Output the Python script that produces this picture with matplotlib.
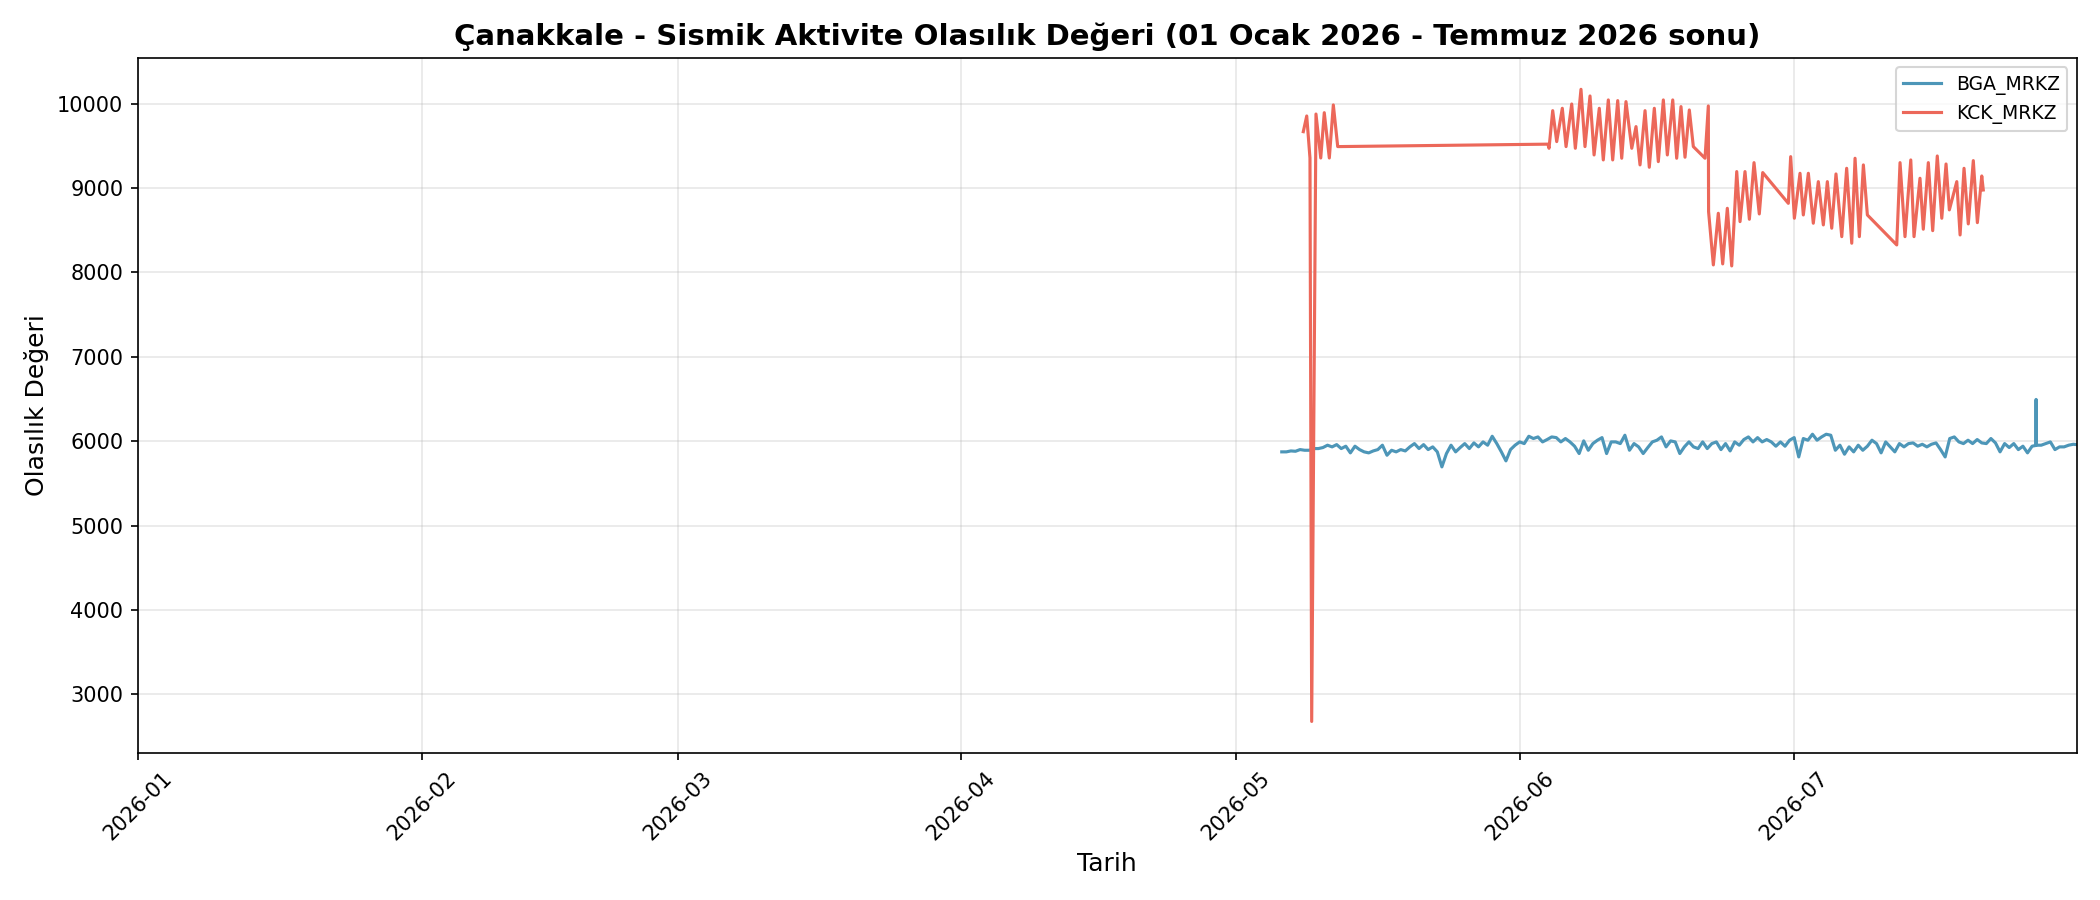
import matplotlib
matplotlib.use("Agg")
import matplotlib.pyplot as plt
import matplotlib.dates as mdates
import pandas as pd

# ---------------- data ----------------
# BGA_MRKZ: 12-hourly readings starting 2026-05-06 00:00
bga_start = "2026-05-06 00:00"
bga_values = [
    5874, 5874, 5885, 5881, 5901, 5893, 5893, 5913, 5913, 5925,
    5953, 5933, 5960, 5913, 5941, 5862, 5941, 5901, 5874, 5862,
    5885, 5901, 5953, 5834, 5893, 5874, 5901, 5885, 5933, 5972,
    5913, 5960, 5901, 5933, 5874, 5696, 5854, 5953, 5874, 5925,
    5972, 5913, 5980, 5933, 5992, 5953, 6059, 5972, 5874, 5767,
    5901, 5953, 5992, 5972, 6059, 6032, 6051, 5992, 6020, 6051,
    6043, 5992, 6032, 5992, 5941, 5854, 6004, 5893, 5972, 6012,
    6043, 5854, 5992, 5992, 5972, 6071, 5893, 5972, 5933, 5854,
    5925, 5992, 6012, 6051, 5933, 6004, 5992, 5854, 5933, 5992,
    5933, 5913, 5992, 5913, 5972, 5992, 5901, 5972, 5885, 5992,
    5953, 6020, 6051, 5992, 6043, 5992, 6020, 5992, 5941, 5992,
    5941, 6012, 6043, 5814, 6032, 6012, 6083, 6012, 6051, 6083,
    6071, 5893, 5953, 5846, 5933, 5874, 5953, 5893, 5941, 6012,
    5972, 5862, 5992, 5933, 5874, 5972, 5933, 5972, 5980, 5941,
    5964, 5933, 5964, 5980, 5901, 5814, 6032, 6051, 5992, 5972,
    6012, 5972, 6020, 5980, 5972, 6032, 5980, 5874, 5972, 5925,
    5972, 5901, 5941, 5862, 5941, 5953, 5953, 5972, 5992, 5901,
    5933, 5933, 5953, 5964,
]
bga_extra_times = ["2026-07-27 10:00", "2026-07-27 10:30", "2026-07-27 11:00",
                   "2026-07-31 21:00"]
bga_extra_values = [5950, 6495, 5955, 5960]

# KCK_MRKZ: readings (time, value)
kck_times = [
    "2026-05-08 08:30", "2026-05-08 17:30", "2026-05-09 02:00", "2026-05-09 06:30",
    "2026-05-09 17:45", "2026-05-10 06:15", "2026-05-10 15:30", "2026-05-11 04:45",
    "2026-05-11 15:15", "2026-05-12 02:45",
    "2026-06-04 02:00", "2026-06-04 05:00",
    "2026-06-04 14:40", "2026-06-05 01:10", "2026-06-05 15:50", "2026-06-06 01:40",
    "2026-06-06 16:30", "2026-06-07 02:00", "2026-06-07 16:50", "2026-06-08 03:20",
    "2026-06-08 16:30", "2026-06-09 03:10", "2026-06-09 16:50", "2026-06-10 03:20",
    "2026-06-10 16:30", "2026-06-11 04:00", "2026-06-11 17:10", "2026-06-12 03:40",
    "2026-06-12 14:50", "2026-06-13 06:00", "2026-06-13 17:10", "2026-06-14 03:40",
    "2026-06-14 16:50", "2026-06-15 04:00", "2026-06-15 17:10", "2026-06-16 03:40",
    "2026-06-16 16:50", "2026-06-17 03:20", "2026-06-17 17:30", "2026-06-18 03:50",
    "2026-06-18 15:10", "2026-06-19 01:40", "2026-06-19 13:00", "2026-06-19 23:30",
    "2026-06-21 06:10", "2026-06-21 14:50", "2026-06-21 15:30",
    "2026-06-22 04:00", "2026-06-22 17:00", "2026-06-23 04:30", "2026-06-23 16:40",
    "2026-06-24 04:10", "2026-06-24 17:20", "2026-06-25 02:00", "2026-06-25 15:00",
    "2026-06-26 02:30", "2026-06-26 14:40", "2026-06-27 04:30", "2026-06-27 13:30",
    "2026-06-30 08:40", "2026-06-30 14:50", "2026-07-01 00:30", "2026-07-01 15:20",
    "2026-07-02 00:00", "2026-07-02 13:10", "2026-07-03 02:10", "2026-07-03 15:20",
    "2026-07-04 04:30", "2026-07-04 15:00", "2026-07-05 02:30", "2026-07-05 13:40",
    "2026-07-06 04:50", "2026-07-06 17:40", "2026-07-07 07:00", "2026-07-07 15:40",
    "2026-07-08 03:00", "2026-07-08 13:30", "2026-07-09 00:00",
    "2026-07-12 05:00", "2026-07-12 13:40", "2026-07-13 02:40", "2026-07-13 17:50",
    "2026-07-14 02:20", "2026-07-14 18:00", "2026-07-15 02:40", "2026-07-15 15:50",
    "2026-07-16 03:20", "2026-07-16 15:20", "2026-07-17 03:10", "2026-07-17 14:20",
    "2026-07-17 23:00", "2026-07-18 18:30", "2026-07-19 03:10", "2026-07-19 13:30",
    "2026-07-20 00:40", "2026-07-20 13:50", "2026-07-21 00:30", "2026-07-21 12:00",
    "2026-07-21 16:00",
]
kck_values = [
    9668, 9854, 9356, 2680,
    9877, 9356, 9893, 9356,
    9985, 9491,
    9520, 9471,
    9917, 9550, 9945, 9491,
    9996, 9471, 10170, 9491,
    10091, 9392, 9945, 9333,
    10044, 9333, 10036, 9353,
    10024, 9471, 9728, 9274,
    9917, 9246, 9945, 9313,
    10044, 9392, 10044, 9353,
    9965, 9365, 9925, 9491,
    9353, 9973, 8720,
    8089, 8701, 8101, 8760,
    8077, 9195, 8602, 9195,
    8630, 9301, 8693, 9183,
    8819, 9372, 8642, 9175,
    8681, 9175, 8583, 9076,
    8563, 9076, 8524, 9167,
    8424, 9234, 8346, 9353,
    8424, 9274, 8681,
    8326, 9301, 8424, 9333,
    8424, 9116, 8512, 9301,
    8495, 9380, 8642, 9285,
    8741, 9076, 8444, 9234,
    8575, 9325, 8590, 9143,
    8977,
]

series_names = ["BGA_MRKZ", "KCK_MRKZ"]
series_colors = ["#4d96b8", "#ec685a"]
x_start = "2026-01-01"

title = "Çanakkale - Sismik Aktivite Olasılık Değeri (01 Ocak 2026 - Temmuz 2026 sonu)"
xlabel = "Tarih"
ylabel = "Olasılık Değeri"

# ---------------- build series ----------------
bga = pd.Series(bga_values,
                index=pd.date_range(bga_start, periods=len(bga_values), freq="12h"))
bga = pd.concat([bga, pd.Series(bga_extra_values, index=pd.to_datetime(bga_extra_times))])
bga = bga.sort_index()
kck = pd.Series(kck_values, index=pd.to_datetime(kck_times))

# ---------------- plot ----------------
fig = plt.figure(figsize=(14, 6), dpi=150)
ax = fig.add_axes([0.0657, 0.1633, 0.9232, 0.7726])

ax.plot(bga.index, bga.values, color=series_colors[0], lw=1.5, label=series_names[0])
ax.plot(kck.index, kck.values, color=series_colors[1], lw=1.5, label=series_names[1])

ax.set_xlim(pd.Timestamp(x_start), bga.index.max())
ax.xaxis.set_major_locator(mdates.MonthLocator())
ax.xaxis.set_major_formatter(mdates.DateFormatter("%Y-%m"))
plt.setp(ax.get_xticklabels(), rotation=45)

ax.grid(True, alpha=0.3)
ax.set_title(title, fontsize=14, fontweight="bold")
ax.set_xlabel(xlabel, fontsize=12)
ax.set_ylabel(ylabel, fontsize=12)
ax.legend(loc="upper right", fontsize=9)

fig.savefig("out.png", dpi=150)
